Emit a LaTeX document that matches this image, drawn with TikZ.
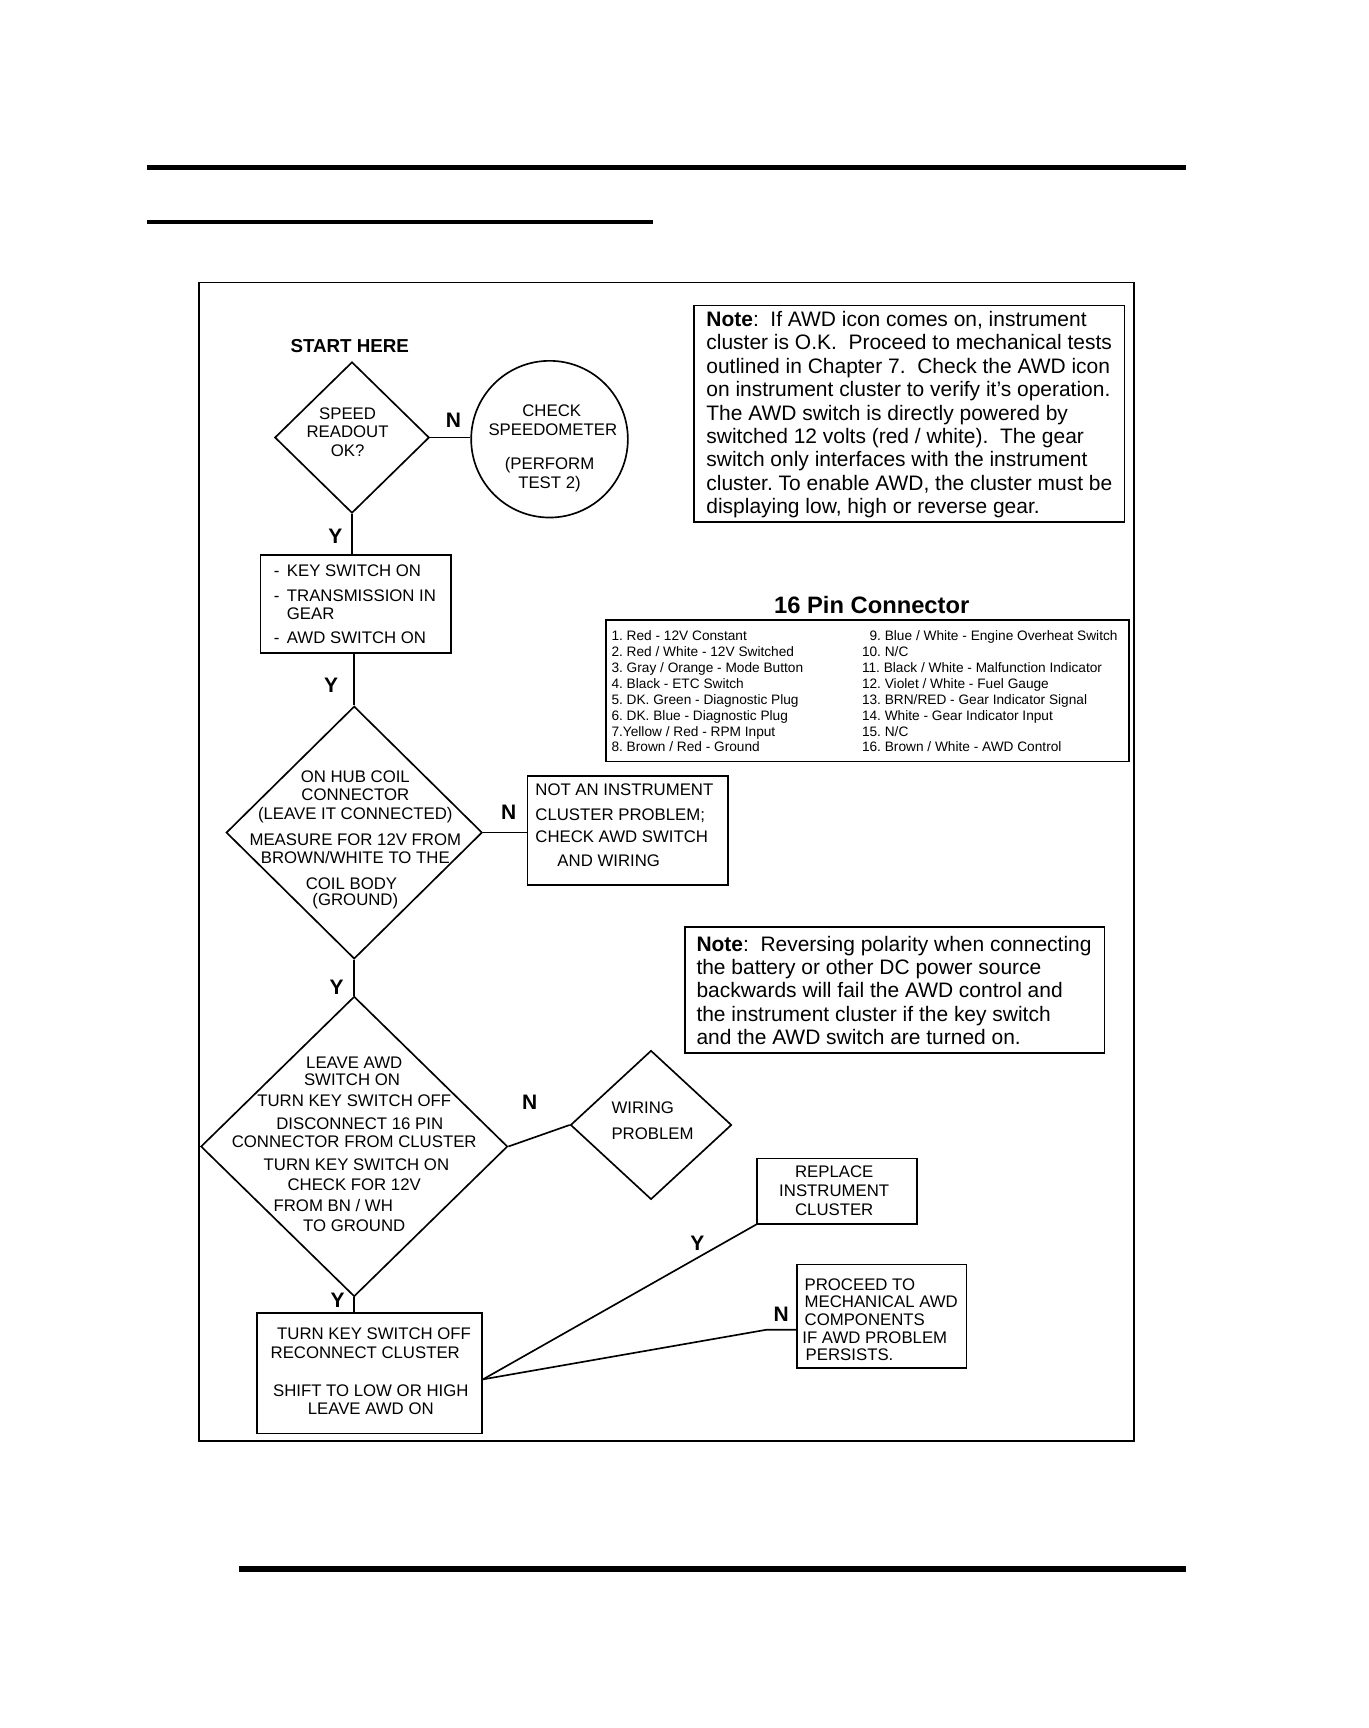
\documentclass[tikz,border=0pt]{standalone}
\usepackage{fontspec}
\setmainfont{Liberation Sans}
\usetikzlibrary{shapes.geometric,calc}
\tikzset{
  flow/.style={font=\fontsize{15.2}{17}\selectfont, inner sep=0pt},
  lbl/.style={font=\fontsize{19}{19}\selectfont\bfseries, inner sep=0pt, anchor=center},
  notetext/.style={font=\fontsize{19}{21.2}\selectfont, align=left, inner sep=0pt, anchor=north west},
  tabtext/.style={font=\fontsize{12.4}{14.4}\selectfont, align=left, inner sep=0pt, anchor=north west},
  shp/.style={draw, line width=1.5pt, inner sep=0pt},
  dia/.style={shp, diamond},
  box/.style={shp, rectangle},
  conn/.style={line width=1.5pt},
}
\frenchspacing
\begin{document}
\begin{tikzpicture}[x=1pt,y=-1pt]
\fill[white] (0,0) rectangle (1240,1566);
\useasboundingbox (0,0) rectangle (1240,1566);
% page rules
\fill (133,149.5) rectangle (1075,154.5);
\fill (133,199.8) rectangle (592,202.6);
\fill (217,1419.5) rectangle (1075,1424.5);
% frame
\draw[line width=1.6pt] (180,256) rectangle (1028,1306);

% start
\node[font=\fontsize{17}{17}\selectfont\bfseries, inner sep=0pt] (start) at (317,314) {START HERE};

% shapes
\node[dia, minimum width=140pt, minimum height=137pt] (d1) at (319,396.5) {};
\node[shp, circle, minimum size=142pt] (c1) at (498,398) {};
\node[box, minimum width=173pt, minimum height=89pt] (b1) at (322.5,547.5) {};
\node[dia, minimum width=232pt, minimum height=229pt] (d2) at (321,754.5) {};
\node[box, minimum width=182pt, minimum height=99pt] (b2) at (569,752.5) {};
\node[dia, minimum width=278pt, minimum height=272pt] (d3) at (321,1039) {};
\node[dia, minimum width=146pt, minimum height=135pt] (d4) at (590,1019.5) {};
\node[box, minimum width=204pt, minimum height=109pt] (b3) at (335,1244.5) {};
\node[box, minimum width=145pt, minimum height=59pt] (r1) at (758.5,1079.5) {};
\node[box, minimum width=154pt, minimum height=94pt] (p1) at (799,1193) {};
\node[box, minimum width=390pt, minimum height=196pt] (n1) at (824,375) {};
\node[box, minimum width=474pt, minimum height=128pt] (t1) at (786,626) {};
\node[box, minimum width=380pt, minimum height=114pt] (n2) at (811,897) {};

% texts in shapes
\node[flow, align=center, anchor=north, font=\fontsize{15.2}{16.5}\selectfont] (d1t) at (315,369.5) {SPEED\\READOUT\\OK?};
\node[flow, align=center, anchor=north] (c1t) at (498,366.5) {\hspace*{4pt}CHECK\\\hspace*{6pt}SPEEDOMETER\\[14pt](PERFORM\\TEST 2)};
\node[flow, align=left, anchor=north west, font=\fontsize{15.2}{16}\selectfont] (b1t) at (248,511.5)
  {-\ \,KEY SWITCH ON\\[7pt]-\ \,TRANSMISSION IN\\\hphantom{-\ \,}GEAR\\[6pt]-\ \,AWD SWITCH ON};
\node[flow, align=center, anchor=north, font=\fontsize{15.2}{16}\selectfont] (d2t) at (322,698.5)
  {ON HUB COIL\\CONNECTOR\\[1pt](LEAVE IT CONNECTED)\\[8pt]MEASURE FOR 12V FROM\\BROWN/WHITE TO THE\\[8pt]COIL BODY\rule{7pt}{0pt}\\[-2pt](GROUND)};
\node[flow, align=left, anchor=north west, font=\fontsize{15.2}{21}\selectfont] (b2t) at (485,710.5)
  {NOT AN INSTRUMENT\\[1pt]CLUSTER PROBLEM;\\[-1pt]CHECK AWD SWITCH\\[1pt]\hspace*{20pt}AND WIRING};
\node[flow, align=center, anchor=north, font=\fontsize{15.2}{18}\selectfont] (d3t) at (321,957.5)
  {LEAVE AWD\\[-2pt]SWITCH ON\rule{4pt}{0pt}\\[1pt]TURN KEY SWITCH OFF\\[2pt]\hspace*{10pt}DISCONNECT 16 PIN\\[-1pt]CONNECTOR FROM CLUSTER\\[3pt]\hspace*{4pt}TURN KEY SWITCH ON\\CHECK FOR 12V\\[1pt]FROM BN / WH\rule{38pt}{0pt}\\TO GROUND};
\node[flow, align=left, anchor=north west, font=\fontsize{15.2}{23}\selectfont] (d4t) at (554,998.5) {WIRING\\PROBLEM};
\node[flow, align=center, anchor=north] (b3t) at (336,1203.5)
  {\hspace*{6pt}TURN KEY SWITCH OFF\\RECONNECT CLUSTER\rule{10pt}{0pt}\\[17pt]SHIFT TO LOW OR HIGH\\LEAVE AWD ON};
\node[flow, align=center, anchor=north] (r1t) at (756,1056.5) {REPLACE\\INSTRUMENT\\CLUSTER};
\node[flow, align=left, anchor=north west, font=\fontsize{15.2}{16}\selectfont] (p1t) at (729,1158.5)
  {PROCEED TO\\MECHANICAL AWD\\COMPONENTS\\\hspace*{-2pt}IF AWD PROBLEM\\\hspace*{1pt}PERSISTS.};

% notes
\node[notetext] (n1t) at (640,282)
  {\textbf{Note}:\ \ If AWD icon comes on, instrument\\
   cluster is O.K.\ \ Proceed to mechanical tests\\
   outlined in Chapter 7.\ \ Check the AWD icon\\
   on instrument cluster to verify it’s operation.\\
   The AWD switch is directly powered by\\
   switched 12 volts (red / white).\ \ The gear\\
   switch only interfaces with the instrument\\
   cluster. To enable AWD, the cluster must be\\
   displaying low, high or reverse gear.};
\node[notetext] (n2t) at (631,848)
  {\textbf{Note}:\ \ Reversing polarity when connecting\\
   the battery or other DC power source\\
   backwards will fail the AWD control and\\
   the instrument cluster if the key switch\\
   and the AWD switch are turned on.};

% connector table
\node[font=\fontsize{21.5}{21.5}\selectfont\bfseries, inner sep=0pt] (t1h) at (790,548) {16 Pin Connector};
\node[tabtext] (t1a) at (554,571.5)
  {1. Red - 12V Constant\\
   2. Red / White - 12V Switched\\
   3. Gray / Orange - Mode Button\\
   4. Black - ETC Switch\\
   5. DK. Green - Diagnostic Plug\\
   6. DK. Blue - Diagnostic Plug\\
   7.Yellow / Red - RPM Input\\
   8. Brown / Red - Ground};
\node[tabtext] (t1b) at (781,571.5)
  {\hphantom{1}9. Blue / White - Engine Overheat Switch\\
   10. N/C\\
   11. Black / White - Malfunction Indicator\\
   12. Violet / White - Fuel Gauge\\
   13. BRN/RED - Gear Indicator Signal\\
   14. White - Gear Indicator Input\\
   15. N/C\\
   16. Brown / White - AWD Control};

% connectors
\draw[conn] (d1.east) -- (d1.east -| c1.west);
\draw[conn] (d1.south) -- (d1.south |- b1.north);
\draw[conn] (d2.north |- b1.south) -- (d2.north);
\draw[conn] (d2.east) -- (d2.east -| b2.west);
\draw[conn] (d2.south) -- (d3.north);
\draw[conn] (d3.east) -- (d4.west);
\draw[conn] (d3.south) -- (d3.south |- b3.north);
\coordinate (j) at ([yshift=-5.5pt]b3.east);
\coordinate (k) at (695,1205);
\draw[conn] (j) -- (r1.south west);
\draw[conn] (j) -- (k) -- (k -| p1.west);

% Y / N labels
\node[lbl] (l1) at (411,381) {N};
\node[lbl] (l2) at (304,486) {Y};
\node[lbl] (l3) at (300,621) {Y};
\node[lbl] (l4) at (461,736) {N};
\node[lbl] (l5) at (305,895) {Y};
\node[lbl] (l6) at (480,999) {N};
\node[lbl] (l7) at (306,1178) {Y};
\node[lbl] (l8) at (632,1127) {Y};
\node[lbl] (l9) at (708,1191) {N};
\end{tikzpicture}
\end{document}
